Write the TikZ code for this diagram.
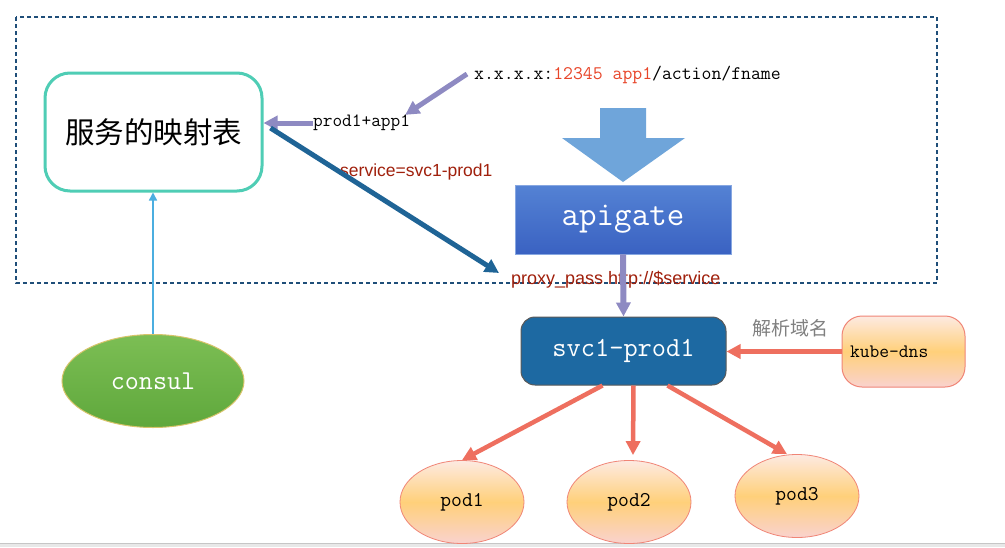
\documentclass[tikz,border=0pt]{standalone}
\usepackage{fontspec}
\newfontfamily\cjk{Noto Sans CJK SC}
\setsansfont{Liberation Sans}
\usetikzlibrary{shapes.geometric, arrows.meta}
\definecolor{framecol}{HTML}{1F4E79}
\definecolor{mapteal}{HTML}{4FCDB5}
\definecolor{lavender}{HTML}{8E8AC2}
\definecolor{urlred}{HTML}{E8462A}
\definecolor{labelred}{HTML}{A0200C}
\definecolor{bigblue}{HTML}{6FA5DA}
\definecolor{diagblue}{HTML}{1F6496}
\definecolor{gatetop}{HTML}{5482D4}
\definecolor{gatebottom}{HTML}{3A62C2}
\definecolor{svcblue}{HTML}{1D69A2}
\definecolor{salmon}{HTML}{EE6F5F}
\definecolor{peachedge}{HTML}{F08576}
\definecolor{peachtop}{HTML}{FDEAE2}
\definecolor{peachmid}{HTML}{FFD07A}
\definecolor{peachbottom}{HTML}{F9D2CE}
\definecolor{consultop}{HTML}{7CBE54}
\definecolor{consulbottom}{HTML}{5FA83C}
\definecolor{consuledge}{HTML}{D8C46A}
\definecolor{consulblue}{HTML}{4BAEE0}
\tikzset{
mapbox/.style={
  draw=mapteal, line width=3pt,
  rectangle, rounded corners=25pt,
  minimum width=217pt, minimum height=118pt,
  font=\cjk\fontsize{29.5pt}{32pt}\selectfont
  },
gatebox/.style={
  draw=gatetop!70!white, line width=0.8pt, rectangle,
  top color=gatetop, bottom color=gatebottom,
  minimum width=216pt, minimum height=69pt,
  text=white, font=\ttfamily\fontsize{34pt}{36pt}\selectfont
  },
svcbox/.style={
  draw=gray!70!black, line width=1pt, fill=svcblue,
  rectangle, rounded corners=14pt,
  minimum width=205pt, minimum height=68pt,
  text=white, font=\ttfamily\fontsize{27.6pt}{30pt}\selectfont
  },
peachbox/.style={
  draw=peachedge, line width=1pt, rectangle, rounded corners=20pt,
  top color=peachtop, bottom color=peachbottom, middle color=peachmid,
  inner xsep=8pt, text width=107pt, minimum height=71pt, align=left,
  font=\ttfamily\fontsize{19pt}{20pt}\selectfont
  },
podnode/.style={
  draw=peachedge, line width=0.8pt, ellipse,
  top color=peachtop, bottom color=peachbottom, middle color=peachmid,
  minimum width=124pt, minimum height=83pt, inner sep=0pt,
  font=\ttfamily\fontsize{21pt}{22pt}\selectfont
  },
consulnode/.style={
  draw=consuledge, line width=1pt, ellipse,
  top color=consultop, bottom color=consulbottom,
  minimum width=182pt, minimum height=93pt, inner sep=0pt,
  text=white, font=\ttfamily\fontsize{27.3pt}{30pt}\selectfont
  },
label/.style={inner sep=0pt, anchor=west},
line/.style={-{Triangle[length=14pt, width=14pt]}}
}
\begin{document}
\begin{tikzpicture}[x=1pt, y=-1pt]
\useasboundingbox (0,0) rectangle (1005,547);
\fill[white] (0,0) rectangle (1005,547);
\fill[gray!18] (0,543) rectangle (1005,547);
\draw[gray!45, line width=0.6pt] (0,543) -- (1005,543);
\draw[framecol, line width=2pt, dash pattern=on 4pt off 3pt] (16,17) rectangle (937,283);

\node[mapbox] (map) at (153.5,132) {服务的映射表};
\node[consulnode] (consul) at (153,381) {consul};
\node[gatebox] (apigate) at (623,219.5) {apigate};
\node[svcbox] (svc) at (623.5,351) {svc1-prod1};
\node[peachbox] (kube) at (903.5,351.5) {kube-dns};
\node[podnode] (pod1) at (462,502) {pod1};
\node[podnode] (pod2) at (629,502) {pod2};
\node[podnode] (pod3) at (797,496) {pod3};

\node[label, font=\ttfamily\fontsize{19.2pt}{20pt}\selectfont] (url) at (474,75)
  {x.x.x.x:\textcolor{urlred}{12345 app1}/action/fname};
\node[label, font=\ttfamily\fontsize{18.8pt}{20pt}\selectfont] (prod) at (313,123) {prod1+app1};
\node[label, text=labelred, font=\sffamily\fontsize{17.5pt}{19pt}\selectfont] (service) at (340,172) {service=svc1-prod1};
\node[label, text=labelred, font=\sffamily\fontsize{18pt}{19pt}\selectfont] (proxy) at (511,280) {proxy\_pass http://\$service};
\node[text=gray, inner sep=0pt, font=\cjk\fontsize{19pt}{20pt}\selectfont] (dns) at (790,328) {解析域名};

\fill[bigblue] (600,108) -- (646,108) -- (646,138) -- (685,138) -- (623,182)
  -- (562,138) -- (600,138) -- cycle;

\draw[-{Triangle[length=8pt, width=8pt]}, consulblue, line width=1.5pt] (consul.north) -- (consul.north |- map.south);
\draw[line, lavender, line width=5pt] ([xshift=-7pt,yshift=1pt]url.west) -- ([xshift=-5pt]prod.north east);
\draw[line, lavender, line width=5pt] (prod.west) -- (prod.west -| map.east);
\draw[line, diagblue, line width=5pt] ([xshift=7pt,yshift=4pt]map.east) -- ([xshift=-12pt,yshift=7pt]proxy.west);
\draw[line, lavender, line width=6pt] (apigate.south) -- (svc.north);
\draw[line, salmon, line width=4.5pt] (kube.west) -- (kube.west -| svc.east);
\draw[line, salmon, line width=4.5pt] ([xshift=-21pt]svc.south) -- (pod1.north);
\draw[line, salmon, line width=4.5pt] ([xshift=10pt]svc.south) -- ([xshift=4pt,yshift=5pt]pod2.north);
\draw[line, salmon, line width=4.5pt] ([xshift=44pt]svc.south) -- ([xshift=-10pt]pod3.north);
\end{tikzpicture}
\end{document}
